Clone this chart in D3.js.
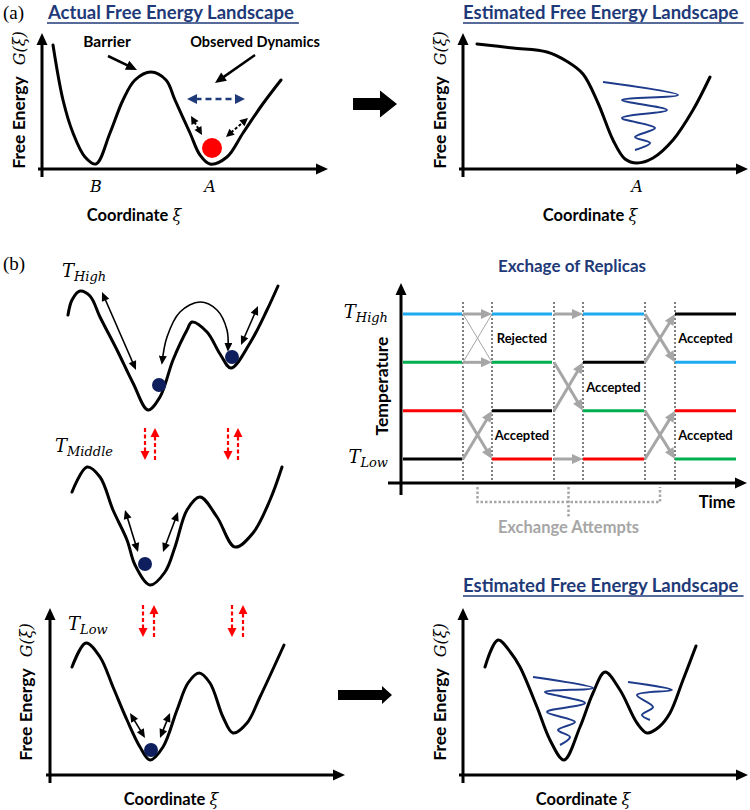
<!DOCTYPE html>
<html><head><meta charset="utf-8">
<script src="https://cdn.jsdelivr.net/npm/d3@7"></script>
<style>body{margin:0;background:#fff}svg{display:block}</style>
</head><body>
<script>
// ================= DATA (panel units: ξ to the right, G upward, from each panel origin) =================
// (a) actual landscape
const actualCurve = [[11,124],[21,69],[31,36],[43,12],[54,5],[68,36],[81,69],[93,89],[109,97],[124,89],[133,69],[148,36],[158,14],[168,5],[185,12],[201,36],[220,64],[239,89]];
const actualMinLabels = [["B",54],["A",168]];
// (a) estimated landscape
const estCurveA = [[14,125],[50,121],[84,117],[105,107],[120,95],[135,66],[150,29],[162,10],[174,6],[190,11],[210,29],[230,59],[247,92]];
const estSquiggleA = [[140,87],[215,74],[159,69],[204,59],[159,51],[192,41],[172,32],[187,26],[172,19]];
const estMinLabels = [["A",174]];
// (b) replica landscapes
const highCurve = [[18,105],[22,120],[30,129],[40,124],[50,103],[67,70],[83,37],[98,10],[110,23],[123,60],[137,90],[142,98],[157,88],[170,66],[181,52],[200,77],[217,110],[228,134]];
const midCurve = [[22,108],[37,133],[50,123],[63,90],[77,60],[85,35],[100,15],[115,28],[125,53],[137,90],[150,103],[167,83],[185,53],[203,67],[220,100],[232,133]];
const lowCurve = [[22,108],[36,132],[50,118],[63,88],[77,55],[90,28],[100,15],[113,28],[127,65],[138,92],[149,102],[160,92],[173,58],[183,42],[197,52],[210,78],[234,130]];
const estCurveB = [[22,108],[35,135],[48,122],[57,108],[74,68],[87,35],[101,15],[117,48],[130,82],[142,103],[157,85],[174,52],[184,42],[196,48],[207,62],[220,95],[233,129]];
const estSquiggleB1 = [[70,98],[130,87],[82,83],[122,72],[84,63],[112,53],[95,45],[107,38],[97,30]];
const estSquiggleB2 = [[165,93],[209,85],[174,80],[190,68],[179,60],[187,55]];
// walkers (circles)
const highWalkers = [[109,35],[182,63]];
const midWalkers = [[95,36]];
const lowWalkers = [[101,25]];
const observedWalker = [[170,21]];
// double-headed motion arrows [from, to]
const highMoves = [[[52,128],[86,50]],[[191,75],[208,114]]];
const highHop = [[112,57],[117,83],[130,108],[150,118],[167,110],[177,90],[178,70]];
const midMoves = [[[75,90],[88,48]],[[128,88],[113,48]]];
const lowMoves = [[[80,62],[95,37]],[[120,62],[110,37]]];
// red exchange arrows: [ξ, Gtop, Gbottom, direction]
const redArrowsMid = [[95,172,140,"down"],[105,172,140,"up"],[178,172,140,"down"],[188,172,140,"up"]];
const redArrowsLow = [[93,170,138,"down"],[104,170,138,"up"],[182,170,138,"down"],[193,170,138,"up"]];
// (a) annotations
const annoBarrier = [[66,113],[95,99]];
const annoObserved = [[213,114],[173,86]];
const blueDashed = [[145,70],[203,70]];
const smallDashed = [[[149,53],[160,34]],[[184,32],[206,51]]];

// Replica exchange schematic
const levelNames = ["Low","","","High"];           // temperature levels 0..3
const phaseStart = [2,91,182,274];                  // time units
const phaseEnd   = [61,151,243,335];
const attemptBounds = [[62,91],[153,182],[244,274]];
const phaseReplicas = [                              // replica id at level 0..3 (low->high)
  ["k","r","g","c"],
  ["r","k","g","c"],
  ["r","g","k","c"],
  ["g","r","c","k"]
];
const swapAttempts = [
  [[0,1,"Accepted"],[2,3,"Rejected"]],
  [[1,2,"Accepted"]],
  [[0,1,"Accepted"],[2,3,"Accepted"]]
];
const replicaColor = {k:"#000000", r:"#ff0000", g:"#00b050", c:"#1eaaf0"};

// ================= DRAWING =================
const W=750,H=810;
const NAVY="#1f3a78", SQ="#1f3c8c", DOT="#0f1f5e", GRAY="#a6a6a6";
const sans="Lato, 'Open Sans', sans-serif";
const serif="'DejaVu Serif', serif";
const svg=d3.select("body").append("svg").attr("width",W).attr("height",H);
const defs=svg.append("defs");
defs.append("marker").attr("id","hopHead").attr("viewBox","0 0 10 10").attr("refX",8).attr("refY",5)
  .attr("markerUnits","userSpaceOnUse").attr("markerWidth",9).attr("markerHeight",8)
  .attr("preserveAspectRatio","none").attr("orient","auto-start-reverse")
  .append("path").attr("d","M0,0L10,5L0,10Z").attr("fill","#000");

function panel(ox,oy){
  return {x:d3.scaleLinear().domain([0,100]).range([ox,ox+100]),
          y:d3.scaleLinear().domain([0,100]).range([oy,oy-100])};
}
function P(p,d){return [p.x(d[0]),p.y(d[1])];}

function arrow(g,p1,p2,o){
  const dx=p2[0]-p1[0],dy=p2[1]-p1[1],L=Math.hypot(dx,dy),ux=dx/L,uy=dy/L;
  const hl=o.hl,hw=o.hw;
  let a=p1.slice(),b=p2.slice();
  if(o.end) b=[p2[0]-ux*hl*0.85,p2[1]-uy*hl*0.85];
  if(o.start) a=[p1[0]+ux*hl*0.85,p1[1]+uy*hl*0.85];
  g.append("line").attr("x1",a[0]).attr("y1",a[1]).attr("x2",b[0]).attr("y2",b[1])
   .attr("stroke",o.color).attr("stroke-width",o.w).attr("stroke-dasharray",o.dash||null);
  function head(t,vx,vy){
    const bx=t[0]-vx*hl,by=t[1]-vy*hl,px=-vy,py=vx;
    g.append("path").attr("d",`M${t[0]},${t[1]}L${bx+px*hw/2},${by+py*hw/2}L${bx-px*hw/2},${by-py*hw/2}Z`).attr("fill",o.color);
  }
  if(o.end) head(p2,ux,uy);
  if(o.start) head(p1,-ux,-uy);
}

const lineGen=p=>d3.line().x(d=>p.x(d[0])).y(d=>p.y(d[1])).curve(d3.curveCatmullRom.alpha(0.5));
const squigGen=p=>d3.line().x(d=>p.x(d[0])).y(d=>p.y(d[1])).curve(d3.curveCatmullRom.alpha(0.5));

function drawCurve(p,data){
  svg.append("path").datum(data).attr("d",lineGen(p)).attr("fill","none").attr("stroke","#000").attr("stroke-width",3).attr("stroke-linecap","round").attr("stroke-linejoin","round");
}
function drawSquiggle(p,data){
  svg.append("path").datum(data).attr("d",squigGen(p)).attr("fill","none").attr("stroke",SQ).attr("stroke-width",2);
}
function drawAxes(p,xEnd,yEnd){
  arrow(svg,P(p,[-4,0]),P(p,[xEnd,0]),{color:"#000",w:3,hl:12,hw:11,end:true});
  arrow(svg,P(p,[0,-8]),P(p,[0,yEnd]),{color:"#000",w:3,hl:12,hw:11,end:true});
}
function yLabel(x,cy){
  const t=svg.append("text").attr("transform",`translate(${x},${cy}) rotate(-90)`).attr("text-anchor","middle");
  t.append("tspan").attr("font-family",sans).attr("font-weight","bold").attr("font-size",17.5).text("Free Energy");
  t.append("tspan").attr("dx",11).attr("font-family",serif).attr("font-style","italic").attr("font-size",16).text("G(ξ)");
}
function xLabel(x,y){
  const t=svg.append("text").attr("x",x).attr("y",y).attr("text-anchor","middle");
  t.append("tspan").attr("font-family",sans).attr("font-weight","bold").attr("font-size",16.5).text("Coordinate ");
  t.append("tspan").attr("font-family",serif).attr("font-style","italic").attr("font-size",16).text("ξ");
}
function title(x,y,txt,underline,anchor,size){
  const t=svg.append("text").attr("x",x).attr("y",y).attr("text-anchor",anchor||"start")
    .attr("font-family",sans).attr("font-weight","bold").attr("font-size",size||18.5).attr("fill",NAVY).text(txt);
  if(underline){
    const bb=t.node().getBBox();
    svg.append("line").attr("x1",bb.x).attr("x2",bb.x+bb.width+5).attr("y1",y+4).attr("y2",y+4).attr("stroke",NAVY).attr("stroke-width",1.5);
  }
}
function tLabel(x,y,sub,anchor){
  const t=svg.append("text").attr("x",x).attr("y",y).attr("text-anchor",anchor||"start").attr("font-family",serif).attr("font-style","italic");
  t.append("tspan").attr("font-size",18).text("T");
  t.append("tspan").attr("font-size",13).attr("dy",4).text(sub);
}
function walkers(p,data,r,color){
  svg.selectAll(null).data(data).enter().append("circle").attr("cx",d=>p.x(d[0])).attr("cy",d=>p.y(d[1])).attr("r",r).attr("fill",color);
}
function moves(p,data){
  data.forEach(m=>arrow(svg,P(p,m[0]),P(p,m[1]),{color:"#000",w:1.6,hl:9,hw:8,start:true,end:true}));
}
function redArrows(p,data){
  data.forEach(d=>{
    const top=P(p,[d[0],d[1]]),bot=P(p,[d[0],d[2]]);
    if(d[3]==="down") arrow(svg,top,bot,{color:"#ff0000",w:2.2,hl:9,hw:9,end:true,dash:"4,2.5"});
    else arrow(svg,bot,top,{color:"#ff0000",w:2.2,hl:9,hw:9,end:true,dash:"4,2.5"});
  });
}
function bigArrow(x0,x1,xt,yc,bh,hh){
  svg.append("path").attr("d",`M${x0},${yc-bh/2}H${x1}V${yc-hh/2}L${xt},${yc}L${x1},${yc+hh/2}V${yc+bh/2}H${x0}Z`).attr("fill","#000");
}
function boldText(x,y,txt,size,anchor,fill){
  return svg.append("text").attr("x",x).attr("y",y).attr("text-anchor",anchor||"middle").attr("font-family",sans)
    .attr("font-weight","bold").attr("font-size",size).attr("fill",fill||"#000").text(txt);
}

// panel label
svg.append("text").attr("x",3).attr("y",19).attr("font-family","'Liberation Serif', serif").attr("font-size",19).text("(a)");
svg.append("text").attr("x",3).attr("y",270).attr("font-family","'Liberation Serif', serif").attr("font-size",19).text("(b)");

// ---------- (a) left ----------
const aL=panel(42,169);
title(48,19,"Actual Free Energy Landscape",true);
drawAxes(aL,286,136);
drawCurve(aL,actualCurve);
yLabel(25,100);
xLabel(aL.x(92),221);
svg.selectAll(null).data(actualMinLabels).enter().append("text").attr("x",d=>aL.x(d[1])).attr("y",192)
  .attr("text-anchor","middle").attr("font-family",serif).attr("font-style","italic").attr("font-size",16).text(d=>d[0]);
boldText(aL.x(65),47,"Barrier",15.5);
boldText(aL.x(213),47,"Observed Dynamics",14.5);
arrow(svg,P(aL,annoBarrier[0]),P(aL,annoBarrier[1]),{color:"#000",w:2.5,hl:11,hw:10,end:true});
arrow(svg,P(aL,annoObserved[0]),P(aL,annoObserved[1]),{color:"#000",w:2.5,hl:11,hw:10,end:true});
arrow(svg,P(aL,blueDashed[0]),P(aL,blueDashed[1]),{color:NAVY,w:2.5,hl:10,hw:10,start:true,end:true,dash:"6,4"});
smallDashed.forEach(m=>arrow(svg,P(aL,m[0]),P(aL,m[1]),{color:"#000",w:2,hl:8,hw:8,start:true,end:true,dash:"3,2"}));
walkers(aL,observedWalker,10,"#ff0000");

bigArrow(353,380,397,104,12,27);

// ---------- (a) right ----------
const aR=panel(463,169);
title(463,19,"Estimated Free Energy Landscape",true);
drawAxes(aR,285,136);
drawCurve(aR,estCurveA);
drawSquiggle(aR,estSquiggleA);
yLabel(446,100);
xLabel(aR.x(127),221);
svg.selectAll(null).data(estMinLabels).enter().append("text").attr("x",d=>aR.x(d[1])).attr("y",192)
  .attr("text-anchor","middle").attr("font-family",serif).attr("font-style","italic").attr("font-size",16).text(d=>d[0]);

// ---------- (b) left column ----------
const bH=panel(50,420), bM=panel(50,600), bL=panel(50,775);
tLabel(62,277,"High");
drawCurve(bH,highCurve);
moves(bH,highMoves);
svg.append("path").datum(highHop).attr("d",squigGen(bH)).attr("fill","none").attr("stroke","#000").attr("stroke-width",1.6)
  .attr("marker-start","url(#hopHead)").attr("marker-end","url(#hopHead)");
walkers(bH,highWalkers,7,DOT);

redArrows(bM,redArrowsMid);
tLabel(55,452,"Middle");
drawCurve(bM,midCurve);
moves(bM,midMoves);
walkers(bM,midWalkers,7,DOT);

redArrows(bL,redArrowsLow);
tLabel(68,630,"Low");
drawAxes(bL,295,167);
drawCurve(bL,lowCurve);
moves(bL,lowMoves);
walkers(bL,lowWalkers,7,DOT);
yLabel(32,692);
xLabel(bL.x(121),805);

bigArrow(338,382,392,695,10,18);

// ---------- (b) estimated ----------
const bE=panel(463,775);
title(463,592,"Estimated Free Energy Landscape",true);
drawAxes(bE,285,167);
drawCurve(bE,estCurveB);
drawSquiggle(bE,estSquiggleB1);
drawSquiggle(bE,estSquiggleB2);
yLabel(446,692);
xLabel(bE.x(120),805);

// ---------- (b) replica exchange ----------
const tS=d3.scaleLinear().domain([0,346]).range([401,747]);
const lvS=d3.scaleLinear().domain([0,3]).range([459,314]);
title(572,272,"Exchage of Replicas",false,"middle",17);
// axes
arrow(svg,[tS(-13),483],[tS(346),483],{color:"#000",w:3,hl:12,hw:11,end:true});
arrow(svg,[tS(0),495],[tS(0),283],{color:"#000",w:3,hl:12,hw:11,end:true});
// dotted boundaries
attemptBounds.flat().forEach(b=>{
  svg.append("line").attr("x1",tS(b)).attr("x2",tS(b)).attr("y1",302).attr("y2",483).attr("stroke","#000").attr("stroke-width",1).attr("stroke-dasharray","2,2");
});
// replica segments
phaseReplicas.forEach((reps,k)=>{
  reps.forEach((r,lv)=>{
    svg.append("line").attr("x1",tS(phaseStart[k])).attr("x2",tS(phaseEnd[k])).attr("y1",lvS(lv)).attr("y2",lvS(lv))
      .attr("stroke",replicaColor[r]).attr("stroke-width",3);
  });
});
// exchange arrows
swapAttempts.forEach((sw,k)=>{
  const xa=tS(attemptBounds[k][0]), xb=tS(attemptBounds[k][1]);
  const involved=new Set();
  sw.forEach(([lo,hi,res])=>{
    involved.add(lo);involved.add(hi);
    const ylo=lvS(lo),yhi=lvS(hi);
    if(res==="Accepted"){
      arrow(svg,[xa,ylo],[xb,yhi],{color:GRAY,w:3,hl:11,hw:10,end:true});
      arrow(svg,[xa,yhi],[xb,ylo],{color:GRAY,w:3,hl:11,hw:10,end:true});
    } else {
      svg.append("line").attr("x1",xa).attr("y1",ylo).attr("x2",xb).attr("y2",yhi).attr("stroke",GRAY).attr("stroke-width",1);
      svg.append("line").attr("x1",xa).attr("y1",yhi).attr("x2",xb).attr("y2",ylo).attr("stroke",GRAY).attr("stroke-width",1);
      arrow(svg,[xa,ylo],[xb,ylo],{color:GRAY,w:3,hl:11,hw:10,end:true});
      arrow(svg,[xa,yhi],[xb,yhi],{color:GRAY,w:3,hl:11,hw:10,end:true});
    }
    boldText(tS((phaseStart[k+1]+phaseEnd[k+1])/2),(ylo+yhi)/2+5,res,13);
  });
  [0,1,2,3].filter(l=>!involved.has(l)).forEach(l=>{
    arrow(svg,[xa,lvS(l)],[xb,lvS(l)],{color:GRAY,w:3,hl:11,hw:10,end:true});
  });
});
// level labels
levelNames.forEach((n,lv)=>{ if(n) tLabel(388,lvS(lv)+4,n,"end"); });
// axis titles
svg.append("text").attr("transform",`translate(388,386) rotate(-90)`).attr("text-anchor","middle").attr("font-family",sans).attr("font-weight","bold").attr("font-size",17.5).text("Temperature");
boldText(717,508,"Time",16.5);
// exchange attempts bracket
const mids=attemptBounds.map(b=>tS((b[0]+b[1])/2));
const br=svg.append("g").attr("fill","none").attr("stroke",GRAY).attr("stroke-width",2.5).attr("stroke-dasharray","2.5,2");
br.append("path").attr("d",`M${mids[0]},487V502H${mids[2]}V487`);
br.append("path").attr("d",`M${mids[1]},487V517`);
boldText(mids[1],533,"Exchange Attempts",16.5,"middle",GRAY);
</script>
</body></html>
